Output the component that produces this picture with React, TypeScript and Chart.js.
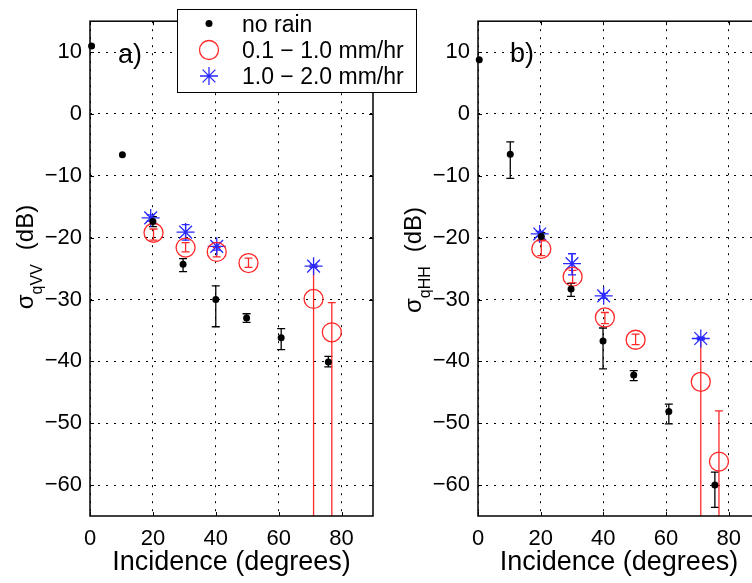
import React, { useEffect, useRef } from 'react';
import { Chart, registerables } from 'chart.js';

Chart.register(...registerables);

const FONT = '"Liberation Sans", Arial, Helvetica, sans-serif';

// ---------- shared axes / labels ----------
const X_MIN = 0;
const X_MAX = 90;
const Y_MIN = -65;
const Y_MAX = 15;
const X_TICKS = [0, 20, 40, 60, 80];
const Y_TICKS = [10, 0, -10, -20, -30, -40, -50, -60];
const X_TITLE = 'Incidence (degrees)';
const SERIES_LABELS = ['no rain', '0.1 \u2212 1.0 mm/hr', '1.0 \u2212 2.0 mm/hr'];
const SERIES_COLORS = ['#000000', 'rgb(255,40,40)', 'rgb(40,40,255)'];

// ---------- panel a) sigma qVV ----------
const A_NORAIN_X = [0.5, 10.3, 20, 29.6, 40, 49.8, 60.8, 75.8];
const A_NORAIN_Y = [11.0, -6.6, -17.4, -24.3, -30.0, -33.0, -36.2, -40.1];
const A_NORAIN_HI = [null, null, -16.6, -23.4, -27.8, -32.3, -34.7, -39.2];
const A_NORAIN_LO = [null, null, -18.2, -25.5, -34.4, -33.7, -38.1, -40.9];

const A_LIGHT_X = [20.2, 30.4, 40.3, 50.4, 71.1, 76.9];
const A_LIGHT_Y = [-19.2, -21.6, -22.3, -24.1, -29.9, -35.3];
const A_LIGHT_HI = [-18.6, -20.8, -21.6, -23.3, -24.6, -30.5];
const A_LIGHT_LO = [-20.4, -22.3, -23.1, -24.8, -100, -100];

const A_HEAVY_X = [19.3, 30.4, 40.3, 71.1];
const A_HEAVY_Y = [-16.8, -19.1, -21.4, -24.6];
const A_HEAVY_HI = [-16.3, -17.9, -20.8, -24.4];
const A_HEAVY_LO = [-17.3, -20.4, -22.0, -24.8];

// ---------- panel b) sigma qHH ----------
const B_NORAIN_X = [0.4, 10.3, 20.2, 29.7, 39.9, 49.7, 60.9, 75.6];
const B_NORAIN_Y = [8.75, -6.5, -19.8, -28.3, -36.7, -42.2, -48.1, -60.0];
const B_NORAIN_HI = [null, -4.5, -19.2, -27.4, -34.6, -41.5, -46.9, -57.9];
const B_NORAIN_LO = [null, -10.4, -20.4, -29.5, -41.2, -43.1, -50.1, -63.6];

const B_LIGHT_X = [20.2, 30.2, 40.5, 50.3, 71.1, 76.9];
const B_LIGHT_Y = [-21.8, -26.3, -32.9, -36.5, -43.3, -56.2];
const B_LIGHT_HI = [-20.5, -25.3, -32.1, -35.6, -36.3, -48.0];
const B_LIGHT_LO = [-22.9, -27.3, -33.9, -37.3, -100, -100];

const B_HEAVY_X = [19.7, 30.0, 40.1, 71.1];
const B_HEAVY_Y = [-19.4, -24.2, -29.4, -36.3];
const B_HEAVY_HI = [-19.0, -22.6, -29.0, -36.1];
const B_HEAVY_LO = [-19.8, -26.0, -29.8, -36.5];

type Series = { x: number[]; y: number[]; hi: (number | null)[]; lo: (number | null)[] };
type Panel = {
  tag: string;
  sub: string;
  canvasW: number;
  yWidth: number;
  padRight: number;
  tagX: number;
  tagY: number;
  titleCY: number;
  legend: boolean;
  series: Series[];
};

const PANEL_A: Panel = {
  tag: 'a)',
  sub: 'qVV',
  canvasW: 420,
  yWidth: 90,
  padRight: 47,
  tagX: 118,
  tagY: 63,
  titleCY: 257,
  legend: true,
  series: [
    { x: A_NORAIN_X, y: A_NORAIN_Y, hi: A_NORAIN_HI, lo: A_NORAIN_LO },
    { x: A_LIGHT_X, y: A_LIGHT_Y, hi: A_LIGHT_HI, lo: A_LIGHT_LO },
    { x: A_HEAVY_X, y: A_HEAVY_Y, hi: A_HEAVY_HI, lo: A_HEAVY_LO },
  ],
};

const PANEL_B: Panel = {
  tag: 'b)',
  sub: 'qHH',
  canvasW: 392,
  yWidth: 98,
  padRight: 12,
  tagX: 130,
  tagY: 62,
  titleCY: 260,
  legend: false,
  series: [
    { x: B_NORAIN_X, y: B_NORAIN_Y, hi: B_NORAIN_HI, lo: B_NORAIN_LO },
    { x: B_LIGHT_X, y: B_LIGHT_Y, hi: B_LIGHT_HI, lo: B_LIGHT_LO },
    { x: B_HEAVY_X, y: B_HEAVY_Y, hi: B_HEAVY_HI, lo: B_HEAVY_LO },
  ],
};

const fmt = (v: number) => (v < 0 ? '\u2212' + Math.abs(v) : String(v));

function drawStar(ctx: CanvasRenderingContext2D, x: number, y: number, r: number) {
  ctx.beginPath();
  ctx.moveTo(x - r, y); ctx.lineTo(x + r, y);
  ctx.moveTo(x, y - r); ctx.lineTo(x, y + r);
  const d = r * Math.SQRT1_2;
  ctx.moveTo(x - d, y - d); ctx.lineTo(x + d, y + d);
  ctx.moveTo(x - d, y + d); ctx.lineTo(x + d, y - d);
  ctx.stroke();
}

function panelPlugin(p: Panel) {
  return {
    id: 'panelDeco',
    beforeDatasetsDraw(chart: any) {
      const { ctx, chartArea: ca, scales } = chart;
      const xs = scales.x, ys = scales.y;
      ctx.save();
      ctx.beginPath();
      ctx.rect(ca.left, ca.top, ca.right - ca.left, ca.bottom - ca.top);
      ctx.clip();
      p.series.forEach((s, si) => {
        ctx.strokeStyle = SERIES_COLORS[si];
        ctx.lineWidth = 1.3;
        s.x.forEach((xv, i) => {
          const hi = s.hi[i], lo = s.lo[i];
          if (hi == null || lo == null) return;
          const px = xs.getPixelForValue(xv);
          const ph = ys.getPixelForValue(hi);
          const pl = ys.getPixelForValue(lo);
          ctx.beginPath();
          ctx.moveTo(px, ph); ctx.lineTo(px, pl);
          ctx.moveTo(px - 4, ph); ctx.lineTo(px + 4, ph);
          ctx.moveTo(px - 4, pl); ctx.lineTo(px + 4, pl);
          ctx.stroke();
        });
      });
      ctx.restore();
    },
    afterDraw(chart: any) {
      const { ctx, chartArea: ca, scales } = chart;
      const xs = scales.x, ys = scales.y;
      ctx.save();
      // frame
      ctx.strokeStyle = '#000';
      ctx.lineWidth = 1.5;
      ctx.strokeRect(ca.left, ca.top, ca.right - ca.left, ca.bottom - ca.top);
      // inner tick marks
      ctx.lineWidth = 1;
      ctx.beginPath();
      X_TICKS.forEach((v) => {
        const px = Math.round(xs.getPixelForValue(v)) + 0.5;
        ctx.moveTo(px, ca.bottom); ctx.lineTo(px, ca.bottom - 4);
        ctx.moveTo(px, ca.top); ctx.lineTo(px, ca.top + 4);
      });
      Y_TICKS.forEach((v) => {
        const py = Math.round(ys.getPixelForValue(v)) + 0.5;
        ctx.moveTo(ca.left, py); ctx.lineTo(ca.left + 4, py);
        ctx.moveTo(ca.right, py); ctx.lineTo(ca.right - 4, py);
      });
      ctx.stroke();

      ctx.fillStyle = '#000';
      // panel tag
      ctx.font = `27px ${FONT}`;
      ctx.textAlign = 'left';
      ctx.textBaseline = 'alphabetic';
      ctx.fillText(p.tag, p.tagX, p.tagY);

      // x title
      ctx.font = `27px ${FONT}`;
      ctx.textAlign = 'center';
      ctx.fillText(X_TITLE, (ca.left + ca.right) / 2, 570);

      // y title with subscript
      ctx.save();
      ctx.translate(ca.left - 57, p.titleCY);
      ctx.rotate(-Math.PI / 2);
      ctx.textAlign = 'left';
      const mainF = `24px ${FONT}`;
      const subF = `16px ${FONT}`;
      ctx.font = mainF;
      const wSig = ctx.measureText('\u03C3').width;
      const wDb = ctx.measureText('(dB)').width;
      ctx.font = subF;
      const wSub = ctx.measureText(p.sub).width;
      const gap = 14;
      let cx = -(wSig + wSub + gap + wDb) / 2;
      ctx.font = mainF;
      ctx.fillText('\u03C3', cx, 0);
      cx += wSig;
      ctx.font = subF;
      ctx.fillText(p.sub, cx, 9);
      cx += wSub + gap;
      ctx.font = mainF;
      ctx.fillText('(dB)', cx, 0);
      ctx.restore();

      // legend
      if (p.legend) {
        const bx = 177, by = 9, bw = 239, bh = 83;
        ctx.fillStyle = '#fff';
        ctx.fillRect(bx, by, bw, bh);
        ctx.strokeStyle = '#000';
        ctx.lineWidth = 1;
        ctx.strokeRect(bx + 0.5, by + 0.5, bw, bh);
        const mx = 209;
        const my = [23.5, 50, 76];
        const tb = [31.5, 57.5, 83.5];
        ctx.fillStyle = SERIES_COLORS[0];
        ctx.beginPath(); ctx.arc(mx, my[0], 3.5, 0, Math.PI * 2); ctx.fill();
        ctx.strokeStyle = SERIES_COLORS[1]; ctx.lineWidth = 1.3;
        ctx.beginPath(); ctx.arc(mx, my[1], 9.5, 0, Math.PI * 2); ctx.stroke();
        ctx.strokeStyle = SERIES_COLORS[2]; ctx.lineWidth = 1.3;
        drawStar(ctx, mx, my[2], 9);
        ctx.fillStyle = '#000';
        ctx.font = `23px ${FONT}`;
        ctx.textAlign = 'left';
        SERIES_LABELS.forEach((t, i) => ctx.fillText(t, 242, tb[i]));
      }
      ctx.restore();
    },
  };
}

function buildConfig(p: Panel): any {
  const pts = (s: Series) => s.x.map((x, i) => ({ x, y: s.y[i] }));
  const [s0, s1, s2] = p.series;
  return {
    type: 'scatter',
    data: {
      datasets: [
        {
          label: SERIES_LABELS[0], data: pts(s0), pointStyle: 'circle', pointRadius: 3.5,
          backgroundColor: SERIES_COLORS[0], borderColor: SERIES_COLORS[0], borderWidth: 0, clip: false,
        },
        {
          label: SERIES_LABELS[1], data: pts(s1), pointStyle: 'circle', pointRadius: 9.5,
          backgroundColor: 'rgba(0,0,0,0)', borderColor: SERIES_COLORS[1], borderWidth: 1.3, clip: false,
        },
        {
          label: SERIES_LABELS[2], data: pts(s2), pointStyle: 'star', pointRadius: 9,
          backgroundColor: 'rgba(0,0,0,0)', borderColor: SERIES_COLORS[2], borderWidth: 1.3, clip: false,
        },
      ],
    },
    options: {
      animation: false,
      responsive: false,
      maintainAspectRatio: false,
      layout: { padding: { left: 0, top: 6, right: p.padRight, bottom: 0 } },
      plugins: { legend: { display: false }, tooltip: { enabled: false } },
      scales: {
        x: {
          type: 'linear',
          min: X_MIN,
          max: X_MAX,
          afterBuildTicks: (axis: any) => { axis.ticks = X_TICKS.map((v) => ({ value: v })); },
          afterFit: (s: any) => { s.height = 67; },
          grid: { color: '#000', lineWidth: 1, drawTicks: false },
          border: { display: false, dash: [2, 6] },
          ticks: {
            autoSkip: false, maxRotation: 0, padding: 10, color: '#000',
            font: { family: FONT, size: 22 },
            callback: (v: number) => fmt(v),
          },
        },
        y: {
          type: 'linear',
          min: Y_MIN,
          max: Y_MAX,
          afterBuildTicks: (axis: any) => { axis.ticks = Y_TICKS.map((v) => ({ value: v })); },
          afterFit: (s: any) => { s.width = p.yWidth; },
          grid: { color: '#000', lineWidth: 1, drawTicks: false },
          border: { display: false, dash: [2, 6] },
          ticks: {
            autoSkip: false, padding: 8, color: '#000',
            font: { family: FONT, size: 22 },
            callback: (v: number) => fmt(v),
          },
        },
      },
    },
    plugins: [panelPlugin(p)],
  };
}

export default function App() {
  const refA = useRef<HTMLCanvasElement>(null);
  const refB = useRef<HTMLCanvasElement>(null);
  useEffect(() => {
    const ca = new Chart(refA.current as HTMLCanvasElement, buildConfig(PANEL_A));
    const cb = new Chart(refB.current as HTMLCanvasElement, buildConfig(PANEL_B));
    return () => {
      ca.destroy();
      cb.destroy();
    };
  }, []);
  return (
    <div
      style={{
        position: 'fixed', left: 0, top: 0, width: 752, height: 583,
        overflow: 'hidden', background: '#fff',
      }}
    >
      <canvas
        ref={refB}
        width={PANEL_B.canvasW}
        height={583}
        style={{ position: 'absolute', left: 380, top: 0, width: PANEL_B.canvasW, height: 583 }}
      />
      <canvas
        ref={refA}
        width={PANEL_A.canvasW}
        height={583}
        style={{ position: 'absolute', left: 0, top: 0, width: PANEL_A.canvasW, height: 583 }}
      />
    </div>
  );
}
